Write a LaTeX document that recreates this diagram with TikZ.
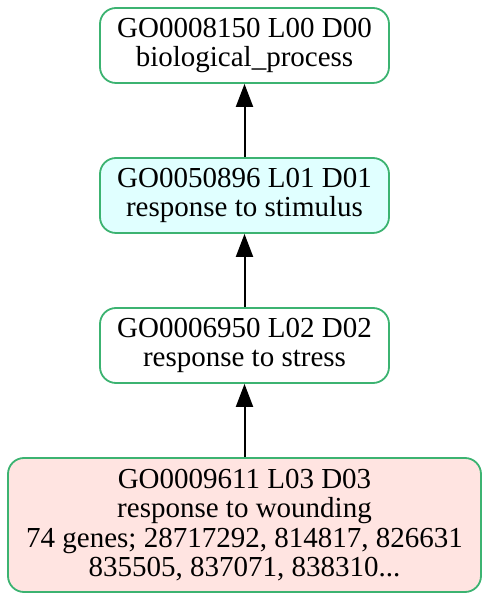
\documentclass[tikz,border=0pt]{standalone}
\usepackage{fontspec}
\setmainfont{Liberation Serif}
\usetikzlibrary{arrows.meta}
\definecolor{goborder}{RGB}{60,179,113}
\definecolor{gocyan}{RGB}{224,255,255}
\definecolor{gorose}{RGB}{255,228,225}
\begin{document}
\begin{tikzpicture}[
    x=1pt, y=1pt,
    term/.style={rectangle, draw=goborder, line width=1.8pt, rounded corners=16pt, align=center, minimum width=289pt, minimum height=75pt, inner sep=0pt, font=\fontsize{29}{29.5}\selectfont},
    isa/.style={-{Triangle[length=23pt, width=17pt]}, line width=2pt}
]
    \useasboundingbox (0,0) rectangle (489,600);

    % Term nodes
    \node[term, fill=white] (bp) at (244.5,554.5) {GO0008150 L00 D00\\biological\_process};
    \node[term, fill=gocyan] (stim) at (244.5,404.5) {GO0050896 L01 D01\\response to stimulus};
    \node[term, fill=white] (stress) at (244.5,254.5) {GO0006950 L02 D02\\response to stress};
    \node[term, fill=gorose, minimum width=473pt, minimum height=134pt] (wound) at (244.5,75) {GO0009611 L03 D03\\response to wounding\\74 genes; 28717292, 814817, 826631\\835505, 837071, 838310...};

    % Connections
    \draw[isa] (stim) -- (bp);
    \draw[isa] (stress) -- (stim);
    \draw[isa] (wound) -- (stress);
\end{tikzpicture}
\end{document}
